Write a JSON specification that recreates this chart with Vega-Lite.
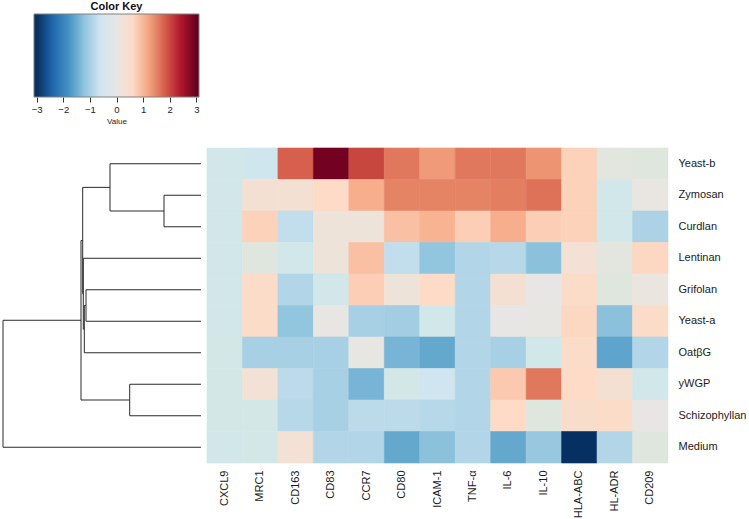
{
"$schema": "https://vega.github.io/schema/vega-lite/v6.json",
"padding": {"left": 2, "top": 0, "right": 0, "bottom": 0},
"config": {"view": {"stroke": null}, "font": "Liberation Sans"},
"datasets": {
"cells": [
{"r":"Yeast-b","c":"CXCL9","v":-0.5},{"r":"Yeast-b","c":"MRC1","v":-0.55},{"r":"Yeast-b","c":"CD163","v":1.8},{"r":"Yeast-b","c":"CD83","v":2.9},{"r":"Yeast-b","c":"CCR7","v":2.05},{"r":"Yeast-b","c":"CD80","v":1.6},{"r":"Yeast-b","c":"ICAM-1","v":1.3},{"r":"Yeast-b","c":"TNF-α","v":1.6},{"r":"Yeast-b","c":"IL-6","v":1.6},{"r":"Yeast-b","c":"IL-10","v":1.35},{"r":"Yeast-b","c":"HLA-ABC","v":0.7},{"r":"Yeast-b","c":"HL-ADR","v":-0.2},{"r":"Yeast-b","c":"CD209","v":-0.25},
{"r":"Zymosan","c":"CXCL9","v":-0.5},{"r":"Zymosan","c":"MRC1","v":0.35},{"r":"Zymosan","c":"CD163","v":0.35},{"r":"Zymosan","c":"CD83","v":0.6},{"r":"Zymosan","c":"CCR7","v":1.1},{"r":"Zymosan","c":"CD80","v":1.5},{"r":"Zymosan","c":"ICAM-1","v":1.5},{"r":"Zymosan","c":"TNF-α","v":1.5},{"r":"Zymosan","c":"IL-6","v":1.55},{"r":"Zymosan","c":"IL-10","v":1.65},{"r":"Zymosan","c":"HLA-ABC","v":0.7},{"r":"Zymosan","c":"HL-ADR","v":-0.5},{"r":"Zymosan","c":"CD209","v":0.05},
{"r":"Curdlan","c":"CXCL9","v":-0.5},{"r":"Curdlan","c":"MRC1","v":0.7},{"r":"Curdlan","c":"CD163","v":-0.75},{"r":"Curdlan","c":"CD83","v":0.2},{"r":"Curdlan","c":"CCR7","v":0.2},{"r":"Curdlan","c":"CD80","v":0.9},{"r":"Curdlan","c":"ICAM-1","v":1.05},{"r":"Curdlan","c":"TNF-α","v":0.75},{"r":"Curdlan","c":"IL-6","v":1.1},{"r":"Curdlan","c":"IL-10","v":0.75},{"r":"Curdlan","c":"HLA-ABC","v":0.7},{"r":"Curdlan","c":"HL-ADR","v":-0.5},{"r":"Curdlan","c":"CD209","v":-0.95},
{"r":"Lentinan","c":"CXCL9","v":-0.5},{"r":"Lentinan","c":"MRC1","v":-0.25},{"r":"Lentinan","c":"CD163","v":-0.5},{"r":"Lentinan","c":"CD83","v":0.2},{"r":"Lentinan","c":"CCR7","v":0.9},{"r":"Lentinan","c":"CD80","v":-0.75},{"r":"Lentinan","c":"ICAM-1","v":-1.2},{"r":"Lentinan","c":"TNF-α","v":-0.9},{"r":"Lentinan","c":"IL-6","v":-0.85},{"r":"Lentinan","c":"IL-10","v":-1.25},{"r":"Lentinan","c":"HLA-ABC","v":0.3},{"r":"Lentinan","c":"HL-ADR","v":-0.2},{"r":"Lentinan","c":"CD209","v":0.65},
{"r":"Grifolan","c":"CXCL9","v":-0.5},{"r":"Grifolan","c":"MRC1","v":0.55},{"r":"Grifolan","c":"CD163","v":-0.9},{"r":"Grifolan","c":"CD83","v":-0.5},{"r":"Grifolan","c":"CCR7","v":0.75},{"r":"Grifolan","c":"CD80","v":0.2},{"r":"Grifolan","c":"ICAM-1","v":0.6},{"r":"Grifolan","c":"TNF-α","v":-0.9},{"r":"Grifolan","c":"IL-6","v":0.35},{"r":"Grifolan","c":"IL-10","v":0.0},{"r":"Grifolan","c":"HLA-ABC","v":0.55},{"r":"Grifolan","c":"HL-ADR","v":-0.25},{"r":"Grifolan","c":"CD209","v":0.1},
{"r":"Yeast-a","c":"CXCL9","v":-0.5},{"r":"Yeast-a","c":"MRC1","v":0.55},{"r":"Yeast-a","c":"CD163","v":-1.2},{"r":"Yeast-a","c":"CD83","v":-0.05},{"r":"Yeast-a","c":"CCR7","v":-1.0},{"r":"Yeast-a","c":"CD80","v":-1.05},{"r":"Yeast-a","c":"ICAM-1","v":-0.5},{"r":"Yeast-a","c":"TNF-α","v":-0.9},{"r":"Yeast-a","c":"IL-6","v":0.0},{"r":"Yeast-a","c":"IL-10","v":-0.05},{"r":"Yeast-a","c":"HLA-ABC","v":0.65},{"r":"Yeast-a","c":"HL-ADR","v":-1.25},{"r":"Yeast-a","c":"CD209","v":0.55},
{"r":"OatβG","c":"CXCL9","v":-0.45},{"r":"OatβG","c":"MRC1","v":-1.0},{"r":"OatβG","c":"CD163","v":-1.0},{"r":"OatβG","c":"CD83","v":-1.0},{"r":"OatβG","c":"CCR7","v":-0.05},{"r":"OatβG","c":"CD80","v":-1.4},{"r":"OatβG","c":"ICAM-1","v":-1.55},{"r":"OatβG","c":"TNF-α","v":-0.9},{"r":"OatβG","c":"IL-6","v":-1.0},{"r":"OatβG","c":"IL-10","v":-0.5},{"r":"OatβG","c":"HLA-ABC","v":0.55},{"r":"OatβG","c":"HL-ADR","v":-1.6},{"r":"OatβG","c":"CD209","v":-0.9},
{"r":"yWGP","c":"CXCL9","v":-0.45},{"r":"yWGP","c":"MRC1","v":0.3},{"r":"yWGP","c":"CD163","v":-0.8},{"r":"yWGP","c":"CD83","v":-1.0},{"r":"yWGP","c":"CCR7","v":-1.4},{"r":"yWGP","c":"CD80","v":-0.45},{"r":"yWGP","c":"ICAM-1","v":-0.6},{"r":"yWGP","c":"TNF-α","v":-0.9},{"r":"yWGP","c":"IL-6","v":0.8},{"r":"yWGP","c":"IL-10","v":1.6},{"r":"yWGP","c":"HLA-ABC","v":0.6},{"r":"yWGP","c":"HL-ADR","v":0.35},{"r":"yWGP","c":"CD209","v":-0.5},
{"r":"Schizophyllan","c":"CXCL9","v":-0.45},{"r":"Schizophyllan","c":"MRC1","v":-0.45},{"r":"Schizophyllan","c":"CD163","v":-0.85},{"r":"Schizophyllan","c":"CD83","v":-1.0},{"r":"Schizophyllan","c":"CCR7","v":-0.8},{"r":"Schizophyllan","c":"CD80","v":-0.8},{"r":"Schizophyllan","c":"ICAM-1","v":-0.85},{"r":"Schizophyllan","c":"TNF-α","v":-0.9},{"r":"Schizophyllan","c":"IL-6","v":0.6},{"r":"Schizophyllan","c":"IL-10","v":-0.25},{"r":"Schizophyllan","c":"HLA-ABC","v":0.5},{"r":"Schizophyllan","c":"HL-ADR","v":0.55},{"r":"Schizophyllan","c":"CD209","v":0.0},
{"r":"Medium","c":"CXCL9","v":-0.5},{"r":"Medium","c":"MRC1","v":-0.45},{"r":"Medium","c":"CD163","v":0.3},{"r":"Medium","c":"CD83","v":-0.9},{"r":"Medium","c":"CCR7","v":-0.9},{"r":"Medium","c":"CD80","v":-1.55},{"r":"Medium","c":"ICAM-1","v":-1.25},{"r":"Medium","c":"TNF-α","v":-0.9},{"r":"Medium","c":"IL-6","v":-1.55},{"r":"Medium","c":"IL-10","v":-1.15},{"r":"Medium","c":"HLA-ABC","v":-3.1},{"r":"Medium","c":"HL-ADR","v":-0.9},{"r":"Medium","c":"CD209","v":-0.25}
],
"dendro": [
{"x":37,"x2":37,"y":1,"y2":2},{"x":37,"x2":0,"y":1,"y2":1},{"x":37,"x2":0,"y":2,"y2":2},
{"x":91,"x2":91,"y":0,"y2":1.5},{"x":91,"x2":0,"y":0,"y2":0},{"x":91,"x2":37,"y":1.5,"y2":1.5},
{"x":115,"x2":115,"y":4,"y2":5},{"x":115,"x2":0,"y":4,"y2":4},{"x":115,"x2":0,"y":5,"y2":5},
{"x":116.7,"x2":116.7,"y":4.5,"y2":6},{"x":116.7,"x2":115,"y":4.5,"y2":4.5},{"x":116.7,"x2":0,"y":6,"y2":6},
{"x":117.7,"x2":117.7,"y":3,"y2":5.25},{"x":117.7,"x2":0,"y":3,"y2":3},{"x":117.7,"x2":116.7,"y":5.25,"y2":5.25},
{"x":118.3,"x2":118.3,"y":0.75,"y2":4.125},{"x":118.3,"x2":91,"y":0.75,"y2":0.75},{"x":118.3,"x2":117.7,"y":4.125,"y2":4.125},
{"x":71.3,"x2":71.3,"y":7,"y2":8},{"x":71.3,"x2":0,"y":7,"y2":7},{"x":71.3,"x2":0,"y":8,"y2":8},
{"x":120,"x2":120,"y":2.4375,"y2":7.5},{"x":120,"x2":118.3,"y":2.4375,"y2":2.4375},{"x":120,"x2":71.3,"y":7.5,"y2":7.5},
{"x":198,"x2":198,"y":4.96875,"y2":9},{"x":198,"x2":120,"y":4.96875,"y2":4.96875},{"x":198,"x2":0,"y":9,"y2":9}
]
},
"spacing": 21,
"vconcat": [
{"spacing": 0, "hconcat": [
 {"width": 28, "height": 83, "data": {"values": [{"a": 0}]}, "mark": {"type": "point", "opacity": 0}, "encoding": {}},
 {"width": 165, "height": 83,
  "title": {"text": "Color Key", "fontSize": 11, "fontWeight": "bold", "offset": 2, "anchor": "middle", "color": "#111"},
  "data": {"values": [{"lo": -3.1, "hi": 3.1, "b": 0, "t": 1}]},
  "mark": {"type": "rect", "stroke": "#808080", "strokeWidth": 1,
    "fill": {"gradient": "linear", "x1": 0, "y1": 0, "x2": 1, "y2": 0, "stops": [
      {"offset": 0, "color": "#053061"},
      {"offset": 0.0161, "color": "#053061"},
      {"offset": 0.1129, "color": "#2166AC"},
      {"offset": 0.2097, "color": "#4393C3"},
      {"offset": 0.3065, "color": "#92C5DE"},
      {"offset": 0.4032, "color": "#D1E5F0"},
      {"offset": 0.5, "color": "#E8E6E4"},
      {"offset": 0.5968, "color": "#FDDBC7"},
      {"offset": 0.6935, "color": "#F4A582"},
      {"offset": 0.7903, "color": "#D6604D"},
      {"offset": 0.8871, "color": "#B2182B"},
      {"offset": 0.9839, "color": "#67001F"},
      {"offset": 1, "color": "#67001F"}]}},
  "encoding": {
   "x": {"field": "lo", "type": "quantitative", "scale": {"domain": [-3.1, 3.1], "nice": false, "zero": false},
     "axis": {"values": [-3, -2, -1, 0, 1, 2, 3], "title": "Value", "domain": false, "grid": false, "tickColor": "#333", "tickSize": 5, "labelFontSize": 9.5, "labelColor": "#222", "labelPadding": 2, "titleFontSize": 8, "titleFontWeight": "normal", "titleColor": "#222", "titlePadding": 4}},
   "x2": {"field": "hi"},
   "y": {"field": "b", "type": "quantitative", "scale": {"domain": [0, 1]}, "axis": null},
   "y2": {"field": "t"}
  }}
]},
{"spacing": 4, "hconcat": [
 {"width": 198, "height": 315,
  "data": {"name": "dendro"},
  "mark": {"type": "rule", "color": "#2a2a2a", "strokeWidth": 1},
  "encoding": {
   "x": {"field": "x", "type": "quantitative", "scale": {"domain": [0, 198], "reverse": true, "nice": false, "zero": false}, "axis": null},
   "x2": {"field": "x2"},
   "y": {"field": "y", "type": "quantitative", "scale": {"domain": [-0.5, 9.5], "reverse": true, "nice": false, "zero": false}, "axis": null},
   "y2": {"field": "y2"}
  }},
 {"width": 461, "height": 315,
  "data": {"name": "cells"},
  "mark": {"type": "rect", "strokeWidth": 0.6},
  "encoding": {
   "x": {"field": "c", "type": "nominal", "sort": ["CXCL9","MRC1","CD163","CD83","CCR7","CD80","ICAM-1","TNF-α","IL-6","IL-10","HLA-ABC","HL-ADR","CD209"],
     "scale": {"paddingInner": 0, "paddingOuter": 0},
     "axis": {"title": null, "labelAngle": -90, "ticks": false, "domain": false, "labelFontSize": 11, "labelPadding": 7, "labelColor": "#1a1a1a"}},
   "y": {"field": "r", "type": "nominal", "sort": ["Yeast-b","Zymosan","Curdlan","Lentinan","Grifolan","Yeast-a","OatβG","yWGP","Schizophyllan","Medium"],
     "scale": {"paddingInner": 0, "paddingOuter": 0},
     "axis": {"title": null, "orient": "right", "ticks": false, "domain": false, "labelFontSize": 11, "labelPadding": 10, "labelColor": "#1a1a1a"}},
   "color": {"field": "v", "type": "quantitative",
     "scale": {"domain": [-3, -2.4, -1.8, -1.2, -0.6, 0, 0.6, 1.2, 1.8, 2.4, 3], "range": ["#053061","#2166AC","#4393C3","#92C5DE","#D1E5F0","#E8E6E4","#FDDBC7","#F4A582","#D6604D","#B2182B","#67001F"], "clamp": true},
     "legend": null},
   "stroke": {"field": "v", "type": "quantitative",
     "scale": {"domain": [-3, -2.4, -1.8, -1.2, -0.6, 0, 0.6, 1.2, 1.8, 2.4, 3], "range": ["#053061","#2166AC","#4393C3","#92C5DE","#D1E5F0","#E8E6E4","#FDDBC7","#F4A582","#D6604D","#B2182B","#67001F"], "clamp": true},
     "legend": null}
  }}
]}
]
}
